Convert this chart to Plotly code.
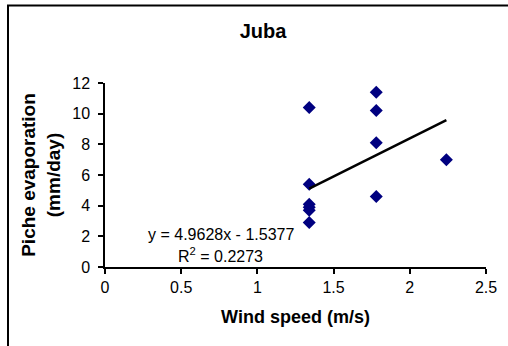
import plotly.graph_objects as go

# Data
wind_speed = [1.34, 1.34, 1.34, 1.34, 1.34, 1.34, 1.78, 1.78, 1.78, 1.78, 2.24]
piche_evap = [10.4, 5.4, 4.1, 3.9, 3.7, 2.9, 11.4, 10.2, 8.1, 4.6, 7.0]
slope = 4.9628
intercept = -1.5377
r_squared = 0.2273
x_ticks = [0, 0.5, 1, 1.5, 2, 2.5]
y_ticks = [0, 2, 4, 6, 8, 10, 12]

x_min, x_max = min(wind_speed), max(wind_speed)
trend_x = [x_min, x_max]
trend_y = [slope * v + intercept for v in trend_x]

FONT = "Liberation Sans, Arial, sans-serif"

fig = go.Figure()
fig.add_trace(go.Scatter(
    x=wind_speed, y=piche_evap, mode="markers",
    marker=dict(symbol="diamond", color="#000080", size=10,
                line=dict(width=0)),
    showlegend=False, hoverinfo="x+y", cliponaxis=False))
fig.add_trace(go.Scatter(
    x=trend_x, y=trend_y, mode="lines",
    line=dict(color="black", width=2.5),
    showlegend=False, hoverinfo="skip"))

fig.update_layout(
    width=508, height=346,
    margin=dict(l=105, r=22, t=83, b=79, autoexpand=False),
    paper_bgcolor="white", plot_bgcolor="white",
    font=dict(family=FONT, color="black", size=16),
    title=dict(text="<b>Juba</b>", x=263 / 508, xanchor="center",
               xref="container", y=1 - 31 / 346, yanchor="middle",
               yref="container",
               font=dict(family=FONT, size=20, color="black")),
    xaxis=dict(range=[0, 2.5], tickvals=x_ticks,
               ticktext=[f"{v:g}" for v in x_ticks],
               showgrid=False, zeroline=False, showline=True,
               linecolor="black", linewidth=1.5, ticks="outside",
               ticklen=5, tickcolor="black", tickwidth=1.5,
               tickfont=dict(size=16), automargin=False,
               title=dict(text="<b>Wind speed (m/s)</b>",
                          font=dict(size=18), standoff=15)),
    yaxis=dict(range=[0, 12], tickvals=y_ticks,
               showgrid=False, zeroline=False, showline=True,
               linecolor="black", linewidth=1.5, ticks="outside",
               ticklen=5, tickcolor="black", tickwidth=1.5,
               ticklabelstandoff=5,
               tickfont=dict(size=16), automargin=False,
               title=dict(text="<b>Piche evaporation<br>(mm/day)</b>",
                          font=dict(size=19), standoff=7)),
    annotations=[
        dict(x=0.758, y=2.14, xref="x", yref="y",
             text=f"y = {slope}x - {abs(intercept)}",
             showarrow=False, xanchor="center", yanchor="middle",
             font=dict(size=16)),
        dict(x=0.758, y=0.77, xref="x", yref="y",
             text=f"R<sup>2</sup> = {r_squared}",
             showarrow=False, xanchor="center", yanchor="middle",
             font=dict(size=16)),
    ],
    shapes=[
        dict(type="rect", xref="paper", yref="paper",
             x0=(8 - 105) / 381, x1=1.2,
             y0=-0.6, y1=(266.7 - 6) / 183.4,
             line=dict(color="black", width=2), fillcolor="rgba(0,0,0,0)",
             layer="below"),
    ],
)

fig.write_html("out.html",
               config={"displayModeBar": False},
               post_script="document.body.style.margin='0px';")
